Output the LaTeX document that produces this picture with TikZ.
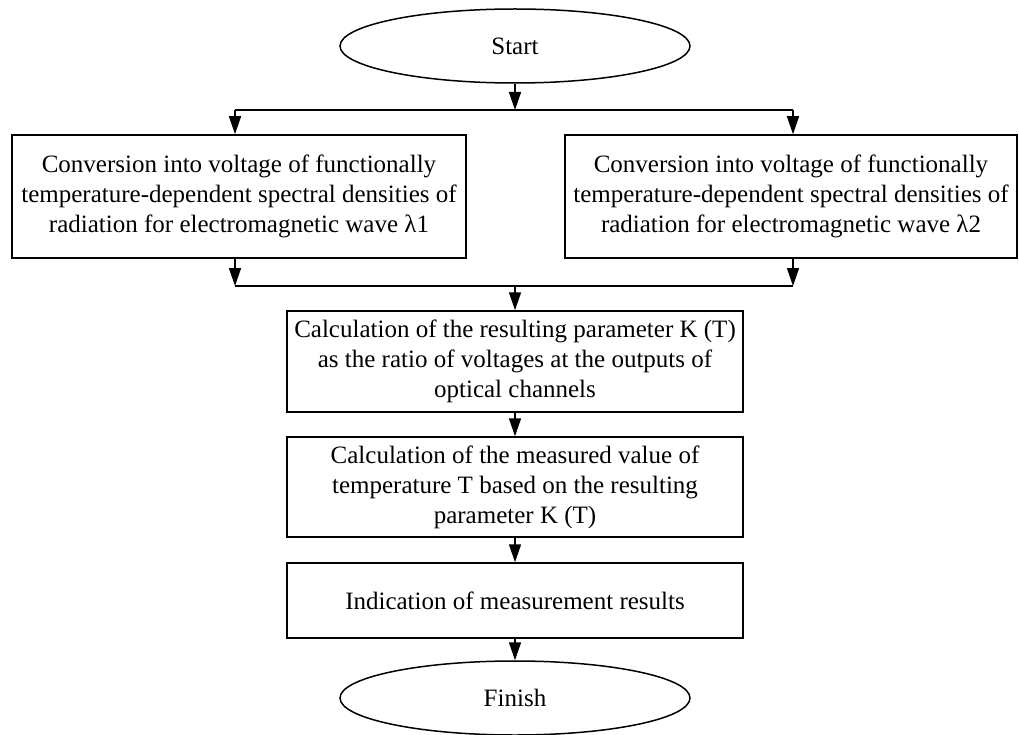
\documentclass[tikz,border=0pt]{standalone}
\usepackage{fontspec}
\setmainfont{Liberation Serif}
\usetikzlibrary{arrows.meta,shapes.geometric}
\begin{document}
\begin{tikzpicture}[x=1pt,y=-1pt,
  txt/.style={font=\fontsize{25}{30}\selectfont},
  box/.style={draw, line width=1.5pt, align=center, inner sep=0pt, txt},
  term/.style={draw, ellipse, line width=1.5pt, inner sep=0pt, txt, minimum width=350pt, minimum height=74pt},
  arr/.style={line width=1.5pt, -{Triangle[length=18pt,width=12pt]}},
  ln/.style={line width=1.5pt}]
\useasboundingbox (0,0) rectangle (1019,735);
\node[term] (start) at (515,46) {Start};
\node[box, minimum width=454pt, minimum height=123pt] (b1) at (239,196.5)
  {Conversion into voltage of functionally\\temperature-dependent spectral densities of\\radiation for electromagnetic wave λ1};
\node[box, minimum width=452pt, minimum height=123pt] (b2) at (791,196.5)
  {Conversion into voltage of functionally\\temperature-dependent spectral densities of\\radiation for electromagnetic wave λ2};
\node[box, minimum width=456pt, minimum height=101pt] (b3) at (515,361.5)
  {Calculation of the resulting parameter K (T)\\as the ratio of voltages at the outputs of\\optical channels};
\node[box, minimum width=456pt, minimum height=100pt] (b4) at (515,487)
  {Calculation of the measured value of\\temperature T based on the resulting\\parameter K (T)};
\node[box, minimum width=456pt, minimum height=75pt] (b5) at (515,600.5)
  {Indication of measurement results};
\node[term] (finish) at (515,698) {Finish};
\coordinate (tm) at (515,110);
\coordinate (tl) at (235,110);
\coordinate (tr) at (793,110);
\coordinate (bl) at (235,286);
\coordinate (bm) at (515,286);
\coordinate (br) at (793,286);
\draw[arr] (start.south) -- (tm);
\draw[ln] (tl) -- (tr);
\draw[arr] (tl) -- (tl |- b1.north);
\draw[arr] (tr) -- (tr |- b2.north);
\draw[arr] (b1.south -| bl) -- (bl);
\draw[arr] (b2.south -| br) -- (br);
\draw[ln] (bl) -- (br);
\draw[arr] (bm) -- (b3.north);
\draw[arr] (b3.south) -- (b4.north);
\draw[arr] (b4.south) -- (b5.north);
\draw[arr] (b5.south) -- (finish.north);
\end{tikzpicture}
\end{document}
